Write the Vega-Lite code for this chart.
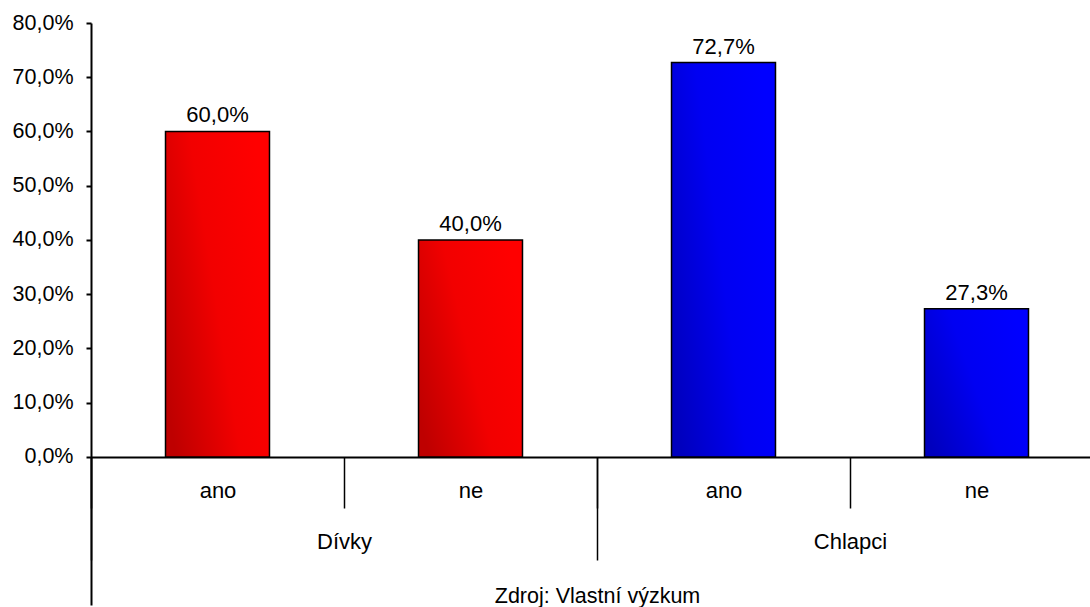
{
  "$schema": "https://vega.github.io/schema/vega-lite/v6.json",
  "autosize": {"type": "none"},
  "padding": {"left": 91, "top": 23, "right": 0, "bottom": 2},
  "width": 999,
  "height": 582,
  "background": "white",
  "config": {
    "font": "Liberation Sans",
    "view": {"stroke": null},
    "locale": {"number": {"decimal": ",", "thousands": " ", "grouping": [3], "currency": ["", " Kč"]}}
  },
  "data": {
    "values": [
      {"group": "Dívky", "sub": "ano", "key": "Dívky|ano", "value": 0.6},
      {"group": "Dívky", "sub": "ne", "key": "Dívky|ne", "value": 0.4},
      {"group": "Chlapci", "sub": "ano", "key": "Chlapci|ano", "value": 0.727},
      {"group": "Chlapci", "sub": "ne", "key": "Chlapci|ne", "value": 0.273}
    ]
  },
  "encoding": {
    "y": {
      "field": "value",
      "type": "quantitative",
      "scale": {"domain": [-0.273, 0.8], "zero": false, "nice": false},
      "axis": {
        "values": [0, 0.1, 0.2, 0.3, 0.4, 0.5, 0.6, 0.7, 0.8],
        "format": ".1%",
        "title": null,
        "grid": false,
        "domainColor": "black",
        "domainWidth": 2,
        "tickColor": "black",
        "tickWidth": 2,
        "tickSize": 5,
        "labelColor": "black",
        "labelFont": "Liberation Sans",
        "labelFontSize": 21.5,
        "labelPadding": 13
      }
    }
  },
  "layer": [
    {
      "encoding": {
        "x": {
          "field": "key",
          "type": "nominal",
          "sort": null,
          "scale": {"range": [0, 1012], "paddingInner": 0, "paddingOuter": 0},
          "axis": {
            "orient": "bottom",
            "offset": -148,
            "title": null,
            "labelExpr": "split(datum.label, '|')[1]",
            "labelAngle": 0,
            "labelBaseline": "alphabetic",
            "labelPadding": -11,
            "labelFont": "Liberation Sans",
            "labelFontSize": 22,
            "labelColor": "black",
            "domainColor": "black",
            "domainWidth": 2,
            "tickBand": "extent",
            "tickSize": 51,
            "tickWidth": 1.5,
            "tickColor": "black",
            "grid": false
          }
        }
      },
      "layer": [
        {
          "mark": {"type": "bar", "stroke": "black", "strokeWidth": 1.5, "width": {"band": 0.411}},
          "encoding": {
            "y2": {"datum": 0},
            "fill": {
              "condition": {
                "test": "datum.group === 'Dívky'",
                "value": {
                  "gradient": "linear", "x1": 0, "y1": 0.8, "x2": 1, "y2": 0.3,
                  "stops": [
                    {"offset": 0, "color": "#BE0000"},
                    {"offset": 0.5, "color": "#F20000"},
                    {"offset": 1, "color": "#FF0000"}
                  ]
                }
              },
              "value": {
                "gradient": "linear", "x1": 0, "y1": 0.8, "x2": 1, "y2": 0.3,
                "stops": [
                  {"offset": 0, "color": "#0000BE"},
                  {"offset": 0.5, "color": "#0000F2"},
                  {"offset": 1, "color": "#0000FF"}
                ]
              }
            }
          }
        },
        {
          "mark": {"type": "text", "baseline": "alphabetic", "dy": -9, "fontSize": 22, "font": "Liberation Sans", "color": "black"},
          "encoding": {
            "text": {"field": "value", "type": "quantitative", "format": ".1%"}
          }
        }
      ]
    },
    {
      "mark": {"type": "point", "opacity": 0},
      "encoding": {
        "x": {
          "field": "group",
          "type": "nominal",
          "sort": ["Dívky", "Chlapci"],
          "scale": {"range": [0, 1012], "paddingInner": 0, "paddingOuter": 0},
          "axis": {
            "orient": "bottom",
            "offset": -148,
            "domain": false,
            "labelAngle": 0,
            "labelBaseline": "alphabetic",
            "labelPadding": -12,
            "labelFont": "Liberation Sans",
            "labelFontSize": 22,
            "labelColor": "black",
            "tickBand": "extent",
            "tickSize": 103,
            "tickWidth": 1.5,
            "tickColor": "black",
            "grid": false,
            "title": "Zdroj: Vlastní výzkum",
            "titleY": 145,
            "titleBaseline": "alphabetic",
            "titleFont": "Liberation Sans",
            "titleFontSize": 21.5,
            "titleFontWeight": "normal",
            "titleColor": "black"
          }
        }
      }
    }
  ],
  "resolve": {"scale": {"x": "independent"}, "axis": {"x": "independent"}}
}
